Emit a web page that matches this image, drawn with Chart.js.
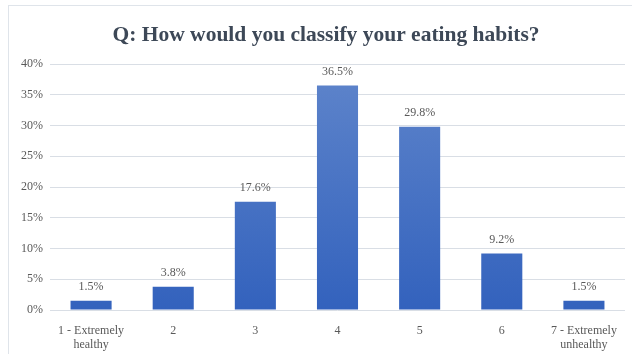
<!DOCTYPE html>
<html>
<head>
<meta charset="utf-8">
<script src="https://cdn.jsdelivr.net/npm/chart.js@4.4.0/dist/chart.umd.min.js"></script>
<style>
  html, body { margin: 0; padding: 0; background: #fff; overflow: hidden; }
  #frame {
    position: absolute; left: 8px; top: 5px;
    width: 640px; height: 360px;
    border: 1px solid #dfe4ea;
  }
  #wrap { position: absolute; left: 0; top: 0; width: 624px; height: 349px; }
</style>
</head>
<body>
<div id="frame"><div id="wrap"><canvas id="chart"></canvas></div></div>
<script>
/* Survey answers, share of respondents in percent */
var categories = [['1 - Extremely', 'healthy'], '2', '3', '4', '5', '6', ['7 - Extremely', 'unhealthy']];
var shares = [1.5, 3.8, 17.6, 36.5, 29.8, 9.2, 1.5];
var shareLabels = ['1.5%', '3.8%', '17.6%', '36.5%', '29.8%', '9.2%', '1.5%'];
var TITLE = 'Q: How would you classify your eating habits?';

var SERIF = "'Liberation Serif', 'Times New Roman', serif";
var TICK_COLOUR = '#595959';
var GRID_COLOUR = '#d9dee5';

/* Vertical gradient per bar, lighter on top like the original */
function barFill(context) {
  var chart = context.chart;
  var area = chart.chartArea;
  if (!area) return '#4a73c4';
  var g = chart.ctx.createLinearGradient(0, area.top, 0, area.bottom);
  g.addColorStop(0, '#5f85cb');
  g.addColorStop(1, '#3362bd');
  return g;
}

/* Plugin: value labels above each bar, plus the title
   (drawn by hand because the original sits a bit right of centre) */
var labelPlugin = {
  id: 'valueLabels',
  afterDatasetsDraw: function(chart) {
    var ctx = chart.ctx;
    var meta = chart.getDatasetMeta(0);
    ctx.save();
    ctx.font = '12px ' + SERIF;
    ctx.fillStyle = TICK_COLOUR;
    ctx.textAlign = 'center';
    ctx.textBaseline = 'bottom';
    meta.data.forEach(function(bar, i) {
      ctx.fillText(shareLabels[i], bar.x, bar.y - 8);
    });

    ctx.font = 'bold 21.5px ' + SERIF;
    ctx.fillStyle = '#3d4857';
    ctx.textBaseline = 'alphabetic';
    ctx.fillText(TITLE, chart.width / 2 + 5, 35);
    ctx.restore();
  }
};

new Chart(document.getElementById('chart').getContext('2d'), {
  type: 'bar',
  data: {
    labels: categories,
    datasets: [{
      data: shares,
      backgroundColor: barFill,
      borderWidth: 0,
      categoryPercentage: 1,
      barPercentage: 0.5
    }]
  },
  options: {
    responsive: true,
    maintainAspectRatio: false,
    animation: false,
    layout: { padding: { top: 58, right: 8, bottom: 0, left: 0 } },
    scales: {
      x: {
        grid: { display: false },
        border: { display: false },
        ticks: {
          color: TICK_COLOUR,
          font: { family: SERIF, size: 12, lineHeight: 1.17 },
          padding: 6,
          maxRotation: 0,
          autoSkip: false
        },
        afterFit: function(scale) { scale.height = 45; }
      },
      y: {
        min: 0,
        max: 40,
        grid: { color: GRID_COLOUR, drawTicks: false, lineWidth: 1 },
        border: { display: false },
        ticks: {
          stepSize: 5,
          color: TICK_COLOUR,
          font: { family: SERIF, size: 12 },
          padding: 7,
          callback: function(v) { return v + '%'; }
        },
        afterFit: function(scale) { scale.width = 41; }
      }
    },
    plugins: {
      legend: { display: false },
      tooltip: { enabled: false },
      title: { display: false }
    }
  },
  plugins: [labelPlugin]
});
</script>
</body>
</html>
